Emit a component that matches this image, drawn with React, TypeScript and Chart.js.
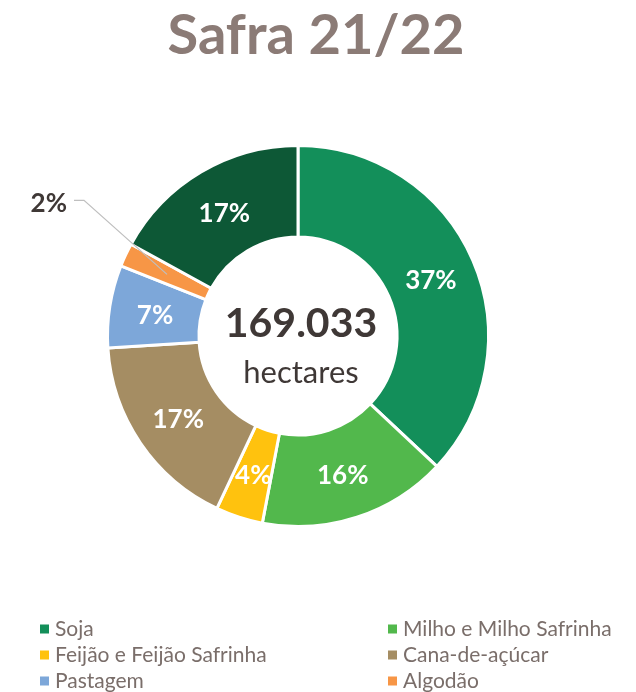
import React, { useEffect, useRef } from "react";
import { Chart, registerables } from "chart.js";

Chart.register(...registerables);

const categories = [
  "Soja",
  "Milho e Milho Safrinha",
  "Feijão e Feijão Safrinha",
  "Cana-de-açúcar",
  "Pastagem",
  "Algodão",
  "Outros",
];
const shares = [37, 16, 4, 17, 7, 2, 17];
const colors = ["#138F5A", "#52B84C", "#FFC20E", "#A58D63", "#7DA7D9", "#F79646", "#0D5836"];
const legendCount = 6;
const titleText = "Safra 21/22";
const totalText = "169.033";
const unitText = "hectares";

const FONT = "Lato, 'Open Sans', sans-serif";

const overlay = {
  id: "overlay",
  afterDraw(chart: any) {
    const ctx = chart.ctx as CanvasRenderingContext2D;
    const W = chart.width;
    ctx.save();
    // title
    ctx.fillStyle = "#8B7B76";
    ctx.font = `bold 56px ${FONT}`;
    ctx.textAlign = "center";
    ctx.textBaseline = "alphabetic";
    ctx.fillText(titleText, W / 2 - 2, 54);

    const meta = chart.getDatasetMeta(0);
    const arcs = meta.data;
    const cx = arcs[0].x;
    const cy = arcs[0].y;

    // center text
    ctx.fillStyle = "#3F3836";
    ctx.font = `bold 41px ${FONT}`;
    ctx.fillText(totalText, cx + 3, cy + 1);
    ctx.font = `31px ${FONT}`;
    ctx.fillText(unitText, cx + 3, cy + 47);

    // data labels
    const total = shares.reduce((a, b) => a + b, 0);
    arcs.forEach((arc: any, i: number) => {
      const p = arc.getProps(["startAngle", "endAngle", "innerRadius", "outerRadius", "x", "y"], true);
      const mid = (p.startAngle + p.endAngle) / 2;
      const r = (p.innerRadius + p.outerRadius) / 2;
      const mx = p.x + Math.cos(mid) * r;
      const my = p.y + Math.sin(mid) * r;
      const txt = Math.round((shares[i] / total) * 100) + "%";
      ctx.font = `bold 26px ${FONT}`;
      ctx.textBaseline = "middle";
      if (shares[i] / total < 0.03) {
        const ex = mx - 83;
        const ey = my - 74;
        ctx.strokeStyle = "#BFBFBF";
        ctx.lineWidth = 1.2;
        ctx.beginPath();
        ctx.moveTo(mx, my);
        ctx.lineTo(ex, ey);
        ctx.lineTo(ex - 10, ey);
        ctx.stroke();
        ctx.fillStyle = "#3F3836";
        ctx.textAlign = "right";
        ctx.fillText(txt, ex - 17, ey + 3);
      } else {
        ctx.fillStyle = "#FFFFFF";
        ctx.textAlign = "center";
        ctx.fillText(txt, mx, my + 2);
      }
    });

    // legend
    ctx.font = `21px ${FONT}`;
    ctx.textBaseline = "middle";
    ctx.textAlign = "left";
    for (let i = 0; i < legendCount; i++) {
      const col = i % 2;
      const row = Math.floor(i / 2);
      const x = col === 0 ? 40 : 388;
      const y = 629 + row * 26;
      ctx.fillStyle = colors[i];
      ctx.fillRect(x, y - 4.5, 9, 9);
      ctx.fillStyle = "#7A6E6A";
      ctx.fillText(categories[i], x + 15, y);
    }
    ctx.restore();
  },
};

export default function App() {
  const ref = useRef<HTMLCanvasElement | null>(null);
  useEffect(() => {
    if (!ref.current) return;
    const chart = new Chart(ref.current, {
      type: "doughnut",
      data: {
        labels: categories,
        datasets: [
          {
            data: shares,
            backgroundColor: colors,
            borderColor: "#FFFFFF",
            borderWidth: 3,
          },
        ],
      },
      options: {
        responsive: false,
        animation: false,
        cutout: "52%",
        layout: { padding: { left: 106, right: 146, top: 144, bottom: 164 } },
        plugins: {
          legend: { display: false },
          title: { display: false },
          tooltip: { enabled: false },
        },
      },
      plugins: [overlay],
    });
    return () => chart.destroy();
  }, []);
  return (
    <div style={{ position: "absolute", left: 0, top: 0, width: 636, height: 692, background: "#fff" }}>
      <canvas ref={ref} width={636} height={692} />
    </div>
  );
}
